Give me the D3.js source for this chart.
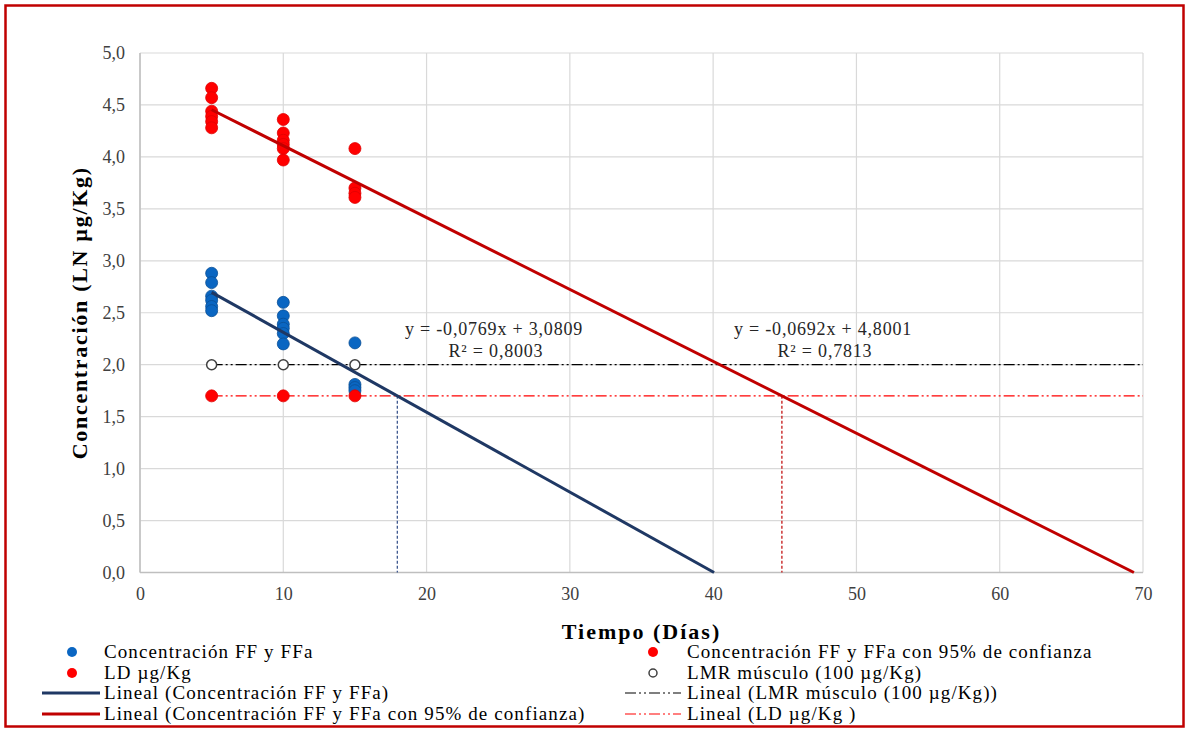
<!DOCTYPE html>
<html>
<head>
<meta charset="utf-8">
<script src="https://cdn.jsdelivr.net/npm/d3@7"></script>
<style>
  body { margin: 0; background: #fff; }
  svg text { font-family: "Liberation Serif", "Times New Roman", serif; }
</style>
</head>
<body>
<svg id="chart" width="1189" height="730"></svg>
<script>
// --- données ---
const concDias = [5, 5, 5, 5, 5, 5, 10, 10, 10, 10, 10, 10, 15, 15, 15, 15];
const concFF = [2.88, 2.79, 2.66, 2.62, 2.56, 2.52, 2.60, 2.47, 2.39, 2.35, 2.30, 2.20, 2.21, 1.81, 1.78, 1.75];

const conf95Dias = [5, 5, 5, 5, 5, 5, 10, 10, 10, 10, 10, 10, 15, 15, 15, 15];
const conf95FF = [4.66, 4.57, 4.44, 4.39, 4.34, 4.28, 4.36, 4.23, 4.16, 4.12, 4.08, 3.97, 4.08, 3.70, 3.65, 3.61];

const limDias = [5, 10, 15];
const ldValores = [1.70, 1.70, 1.70];   // LD µg/Kg
const lmrValores = [2.00, 2.00, 2.00];  // LMR músculo (100 µg/Kg)

// tendencias lineales (ecuaciones de Excel)
const pendientes = [-0.0769, -0.0692];
const intercepciones = [3.0809, 4.8001];
const ecuaciones = ["y = -0,0769x + 3,0809", "y = -0,0692x + 4,8001"];
const r2Textos = ["R² = 0,8003", "R² = 0,7813"];

const xTicks = [0, 10, 20, 30, 40, 50, 60, 70];
const yTicks = [0, 0.5, 1, 1.5, 2, 2.5, 3, 3.5, 4, 4.5, 5];

const leyendaIzq = ["Concentración FF y FFa", "LD µg/Kg", "Lineal (Concentración FF y FFa)", "Lineal (Concentración FF y FFa con 95% de confianza)"];
const leyendaDer = ["Concentración FF y FFa con 95% de confianza", "LMR músculo (100 µg/Kg)", "Lineal (LMR músculo (100 µg/Kg))", "Lineal (LD µg/Kg )"];

// --- dimensions ---
const plot = { left: 140, top: 53, right: 1143, bottom: 572.5 };
const azul = "#0a66c2", rojo = "#ff0000", azulOsc = "#1f3864", rojoOsc = "#c00000";
const fmt = v => d3.format(".1f")(v).replace(".", ",");

const svg = d3.select("#chart");

// marco rojo
svg.append("rect").attr("x", 5.5).attr("y", 5.5).attr("width", 1178).attr("height", 721)
  .attr("fill", "#fff").attr("stroke", rojoOsc).attr("stroke-width", 2.5);

const x = d3.scaleLinear().domain([0, 70]).range([plot.left, plot.right]);
const y = d3.scaleLinear().domain([0, 5]).range([plot.bottom, plot.top]);

// rejilla
svg.append("g").selectAll("line").data(yTicks).join("line")
  .attr("x1", plot.left).attr("x2", plot.right)
  .attr("y1", d => y(d)).attr("y2", d => y(d))
  .attr("stroke", "#d9d9d9").attr("stroke-width", 1.2);
svg.append("g").selectAll("line").data(xTicks).join("line")
  .attr("x1", d => x(d)).attr("x2", d => x(d))
  .attr("y1", plot.top).attr("y2", plot.bottom)
  .attr("stroke", "#d9d9d9").attr("stroke-width", 1.2);
svg.append("line").attr("x1", plot.left).attr("x2", plot.right).attr("y1", y(0)).attr("y2", y(0))
  .attr("stroke", "#bfbfbf").attr("stroke-width", 1.5);
svg.append("line").attr("x1", plot.left).attr("x2", plot.left).attr("y1", plot.top).attr("y2", plot.bottom)
  .attr("stroke", "#bfbfbf").attr("stroke-width", 1.5);

// ejes (etiquetas)
const ejeX = svg.append("g").attr("transform", `translate(0,${plot.bottom})`)
  .call(d3.axisBottom(x).tickValues(xTicks).tickSize(0).tickPadding(15).tickFormat(d3.format("d")));
const ejeY = svg.append("g").attr("transform", `translate(${plot.left},0)`)
  .call(d3.axisLeft(y).tickValues(yTicks).tickSize(0).tickPadding(15).tickFormat(fmt));
[ejeX, ejeY].forEach(g => {
  g.select(".domain").remove();
  g.selectAll("text").attr("font-size", 18).attr("fill", "#404040");
});

// títulos
svg.append("text").attr("x", (plot.left + plot.right) / 2).attr("y", 639)
  .attr("text-anchor", "middle").attr("font-size", 22).attr("font-weight", "bold")
  .attr("letter-spacing", 2).attr("fill", "#000")
  .text("Tiempo (Días)");
svg.append("text").attr("transform", `translate(87,${(plot.top + plot.bottom) / 2}) rotate(-90)`)
  .attr("text-anchor", "middle").attr("font-size", 22).attr("font-weight", "bold")
  .attr("letter-spacing", 1.7).attr("fill", "#000")
  .text("Concentración (LN µg/Kg)");

// líneas horizontales LMR y LD
const patronDDD = "11,3,2,3,2,3";
svg.append("line").attr("x1", x(d3.min(limDias))).attr("x2", x(70))
  .attr("y1", y(lmrValores[0])).attr("y2", y(lmrValores[0]))
  .attr("stroke", "#000").attr("stroke-width", 1.2).attr("stroke-dasharray", patronDDD);
svg.append("line").attr("x1", x(d3.min(limDias))).attr("x2", x(70))
  .attr("y1", y(ldValores[0])).attr("y2", y(ldValores[0]))
  .attr("stroke", rojo).attr("stroke-width", 1.2).attr("stroke-dasharray", patronDDD);

// líneas verticales de intersección con LD
const colTend = [azulOsc, rojoOsc];
const colVert = ["#2e4a86", "#c00000"];
pendientes.forEach((m, i) => {
  const xi = (ldValores[0] - intercepciones[i]) / m;
  svg.append("line").attr("x1", x(xi)).attr("x2", x(xi))
    .attr("y1", y(ldValores[0])).attr("y2", y(0))
    .attr("stroke", colVert[i]).attr("stroke-width", 1.2).attr("stroke-dasharray", "3,2");
});

// puntos
function puntos(xs, ys, fill, stroke) {
  svg.append("g").selectAll("circle").data(xs.map((d, i) => [d, ys[i]])).join("circle")
    .attr("cx", d => x(d[0])).attr("cy", d => y(d[1])).attr("r", 6)
    .attr("fill", fill).attr("stroke", stroke).attr("stroke-width", 0.8);
}
puntos(conf95Dias, conf95FF, rojo, "#e00000");
puntos(concDias, concFF, azul, "#0a4f95");
puntos(limDias, ldValores, rojo, "#e00000");
svg.append("g").selectAll("circle").data(limDias.map((d, i) => [d, lmrValores[i]])).join("circle")
  .attr("cx", d => x(d[0])).attr("cy", d => y(d[1])).attr("r", 5)
  .attr("fill", "#fff").attr("stroke", "#404040").attr("stroke-width", 1.5);

// tendencias lineales
pendientes.forEach((m, i) => {
  const x0 = 5, x1 = Math.min(70, -intercepciones[i] / m);
  svg.append("line").attr("x1", x(x0)).attr("y1", y(m * x0 + intercepciones[i]))
    .attr("x2", x(x1)).attr("y2", y(m * x1 + intercepciones[i]))
    .attr("stroke", colTend[i]).attr("stroke-width", 3);
});

// ecuaciones
const posEq = [[494, 335], [823, 335]];
ecuaciones.forEach((t, i) => {
  const g = svg.append("g").attr("font-size", 18).attr("fill", "#262626")
    .attr("letter-spacing", 0.8).attr("text-anchor", "middle");
  g.append("text").attr("x", posEq[i][0]).attr("y", posEq[i][1]).text(t);
  g.append("text").attr("x", posEq[i][0] + 2).attr("y", posEq[i][1] + 22).text(r2Textos[i]);
});

// leyenda
const filasY = [652, 673, 693, 714];
function leyenda(textos, xMarca, xLinea, xTexto, simbolos) {
  textos.forEach((t, i) => {
    const s = simbolos[i], yy = filasY[i];
    if (s.tipo === "punto") {
      svg.append("circle").attr("cx", xMarca).attr("cy", yy).attr("r", s.r)
        .attr("fill", s.fill).attr("stroke", s.stroke).attr("stroke-width", s.sw);
    } else {
      svg.append("line").attr("x1", xLinea[0]).attr("x2", xLinea[1]).attr("y1", yy).attr("y2", yy)
        .attr("stroke", s.stroke).attr("stroke-width", s.sw).attr("stroke-dasharray", s.dash || null);
    }
    svg.append("text").attr("x", xTexto).attr("y", yy + 6).attr("font-size", 19)
      .attr("letter-spacing", 1.1).attr("fill", "#000").text(t);
  });
}
leyenda(leyendaIzq, 72, [42, 100], 104, [
  { tipo: "punto", r: 5, fill: azul, stroke: azul, sw: 0 },
  { tipo: "punto", r: 5, fill: rojo, stroke: rojo, sw: 0 },
  { tipo: "linea", stroke: azulOsc, sw: 3 },
  { tipo: "linea", stroke: rojoOsc, sw: 3 }
]);
leyenda(leyendaDer, 653, [625, 681], 687, [
  { tipo: "punto", r: 5, fill: rojo, stroke: rojo, sw: 0 },
  { tipo: "punto", r: 4, fill: "#fff", stroke: "#404040", sw: 1.5 },
  { tipo: "linea", stroke: "#000", sw: 1.2, dash: patronDDD },
  { tipo: "linea", stroke: rojo, sw: 1.2, dash: patronDDD }
]);
</script>
</body>
</html>
